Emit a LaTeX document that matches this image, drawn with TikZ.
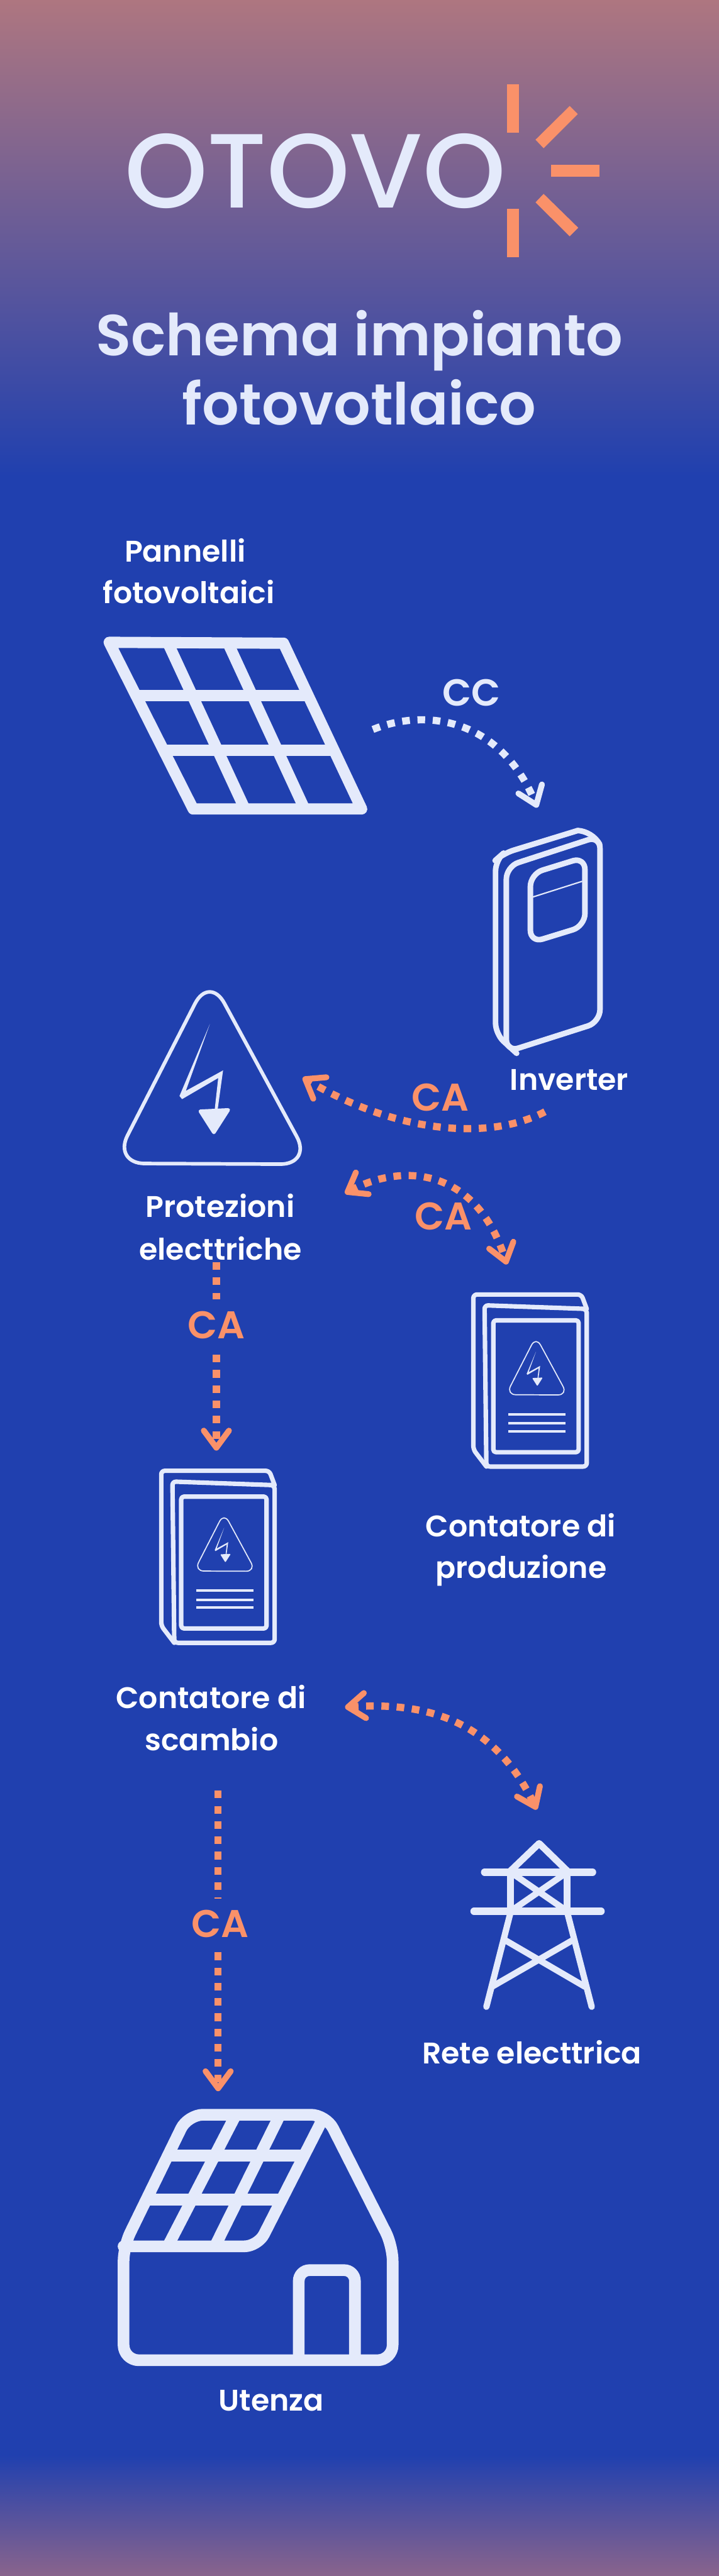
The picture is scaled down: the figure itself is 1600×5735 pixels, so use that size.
\documentclass[tikz,border=0pt]{standalone}
\usepackage{fontspec}
\usetikzlibrary{arrows.meta,bending}
\setmainfont{Poppins}
\newfontfamily\popsemi{Poppins SemiBold}
\newfontfamily\popmed{Poppins Medium}
\definecolor{bgblue}{RGB}{32,64,175}
\definecolor{bgtop}{RGB}{174,118,128}
\definecolor{bgbot}{RGB}{138,100,140}
\definecolor{icon}{RGB}{228,234,251}
\definecolor{sun}{RGB}{250,145,105}
\tikzset{
  lbl/.style={text=white,font=\popsemi\fontsize{33.2}{36}\selectfont,anchor=base,inner sep=0pt},
  titl/.style={text=icon,font=\popsemi\fontsize{64.5}{70}\selectfont,anchor=base,inner sep=0pt},
  calbl/.style={text=sun,font=\popsemi\fontsize{43}{43}\selectfont,anchor=base,inner sep=0pt},
  cclbl/.style={text=icon,font=\popsemi\fontsize{42}{43}\selectfont,anchor=base,inner sep=0pt},
  iconl/.style={draw=icon,line join=round,line cap=round},
  dotted conn/.style={line width=8pt,dash pattern=on 8.5pt off 8.5pt},
  barb/.tip={Straight Barb[length=19pt,width=28pt,line width=6.5pt,round]},
}
\newcommand{\warnicon}[4]{%
  \begin{scope}[shift={(#1,#2)},scale=#3]
    \draw[iconl,line width=#4pt,rounded corners=#3*35pt] (-7,-418) -- (221,2) -- (-221,0) -- cycle;
    \fill[icon] (-6,-310) -- (-73.5,-150) -- (-67.7,-143) -- (12.7,-190) -- (4.5,-116.4) -- (11,-116.4) -- (23.5,-207) -- (-59.4,-161.4) -- cycle;
    \fill[icon,draw=icon,line join=round,line width=#3*4pt] (-27,-116) -- (35,-119) -- (3,-69) -- cycle;
  \end{scope}}
\newcommand{\metericon}[2]{%
  \begin{scope}[shift={(#1,#2)}]
    \draw[iconl,line width=5pt,rounded corners=4pt] (1306,2914) -- (1294,2882) -- (1053.6,2882) -- (1053.6,3227) -- (1082.6,3265);
    \draw[iconl,line width=5pt,rounded corners=4pt] (1078.5,2906) -- (1306,2914) -- (1306,3265) -- (1082.6,3265) -- cycle;
    \draw[iconl,line width=5pt,rounded corners=3pt] (1098,2939.5) rectangle (1288,3233);
    \foreach \yy in {3149,3169,3187}{\draw[icon,line width=2.8pt] (1131.5,\yy) -- (1259,\yy);}
  \end{scope}}
\begin{document}
\begin{tikzpicture}[x=0.5pt,y=-0.5pt]
\useasboundingbox (0,0) rectangle (1600,5735);
% background
\fill[bgblue] (0,0) rectangle (1600,5735);
\shade[top color=bgtop,bottom color=bgblue] (0,0) rectangle (1600,1060);
\shade[top color=bgblue,bottom color=bgbot] (0,5466) rectangle (1600,5735);
% logo
\node[text=icon,inner sep=0pt,anchor=base west,font=\popmed\fontsize{117.5}{118}\selectfont] (logo) at (277,463) {OTOVO};
\fill[sun] (1128,188) rectangle (1155,296);
\fill[sun] (1128,465) rectangle (1155,573);
\fill[sun] (1226,367) rectangle (1334,394);
\fill[sun] (1192,311) -- (1268,236) -- (1286,254) -- (1210,330) -- cycle;
\fill[sun] (1192,450.5) -- (1210,431.6) -- (1287,507) -- (1268,526) -- cycle;
% title
\node[titl] (t1) at (800,791.6) {Schema impianto};
\node[titl] (t2) at (800,946) {fotovotlaico};
% panel
\draw[iconl,line width=12.5pt] (243,1430) -- (631,1432) -- (805,1801) -- (430,1801) -- cycle;
\draw[icon,line width=12.5pt] (299,1548) -- (687,1548);
\draw[icon,line width=12.5pt] (357,1670) -- (744,1670);
\draw[icon,line width=12.5pt] (374,1432) -- (545,1801);
\draw[icon,line width=12.5pt] (507.6,1432) -- (678,1801);
\node[lbl] (lpan1) at (412,1251) {Pannelli};
\node[lbl] (lpan2) at (420,1343) {fotovoltaici};
% inverter
\draw[iconl,line width=6.2pt,rounded corners=12pt] (1286,1849) -- (1120,1900) -- (1103,1915) -- (1103,2302) -- (1150,2345);
\draw[iconl,line width=6.2pt] (1286,1849) .. controls (1305,1850) and (1325,1862) .. (1335,1880);
\draw[iconl,line width=6.2pt,rounded corners=14pt] (1127,1929) -- (1335.5,1861) -- (1335.5,2275.5) -- (1127,2342) -- cycle;
\draw[iconl,line width=6.2pt,rounded corners=14pt] (1180.5,1945.6) -- (1302,1908) -- (1302,2061.6) -- (1180.5,2099) -- cycle;
\draw[icon,line width=1.5pt] (1186,1997) -- (1296,1962);
\node[lbl] (linv) at (1267,2427.5) {Inverter};
% protections
\warnicon{473}{2590}{1}{4}
\node[lbl] (lpro1) at (490,2710) {Protezioni};
\node[lbl] (lpro2) at (491,2805.5) {electtriche};
% meters
\metericon{0}{0}
\warnicon{1195}{3105}{.31}{1.2}
\node[lbl] (lpro3) at (1159,3421) {Contatore di};
\node[lbl] (lpro4) at (1160,3513.7) {produzione};
\metericon{-694.7}{392.4}
\warnicon{500.7}{3497.5}{.31}{1.2}
\node[lbl] (lsc1) at (470,3804) {Contatore di};
\node[lbl] (lsc2) at (471,3896.7) {scambio};
% tower
\draw[iconl,line width=7.5pt] (1136.5,4165) -- (1200,4104) -- (1262.5,4165);
\draw[iconl,line width=8pt] (1078.5,4168) -- (1319,4168);
\draw[iconl,line width=8pt] (1055,4255) -- (1338,4255);
\draw[iconl,line width=7.5pt] (1136.5,4168) -- (1136.5,4255) (1262.5,4168) -- (1262.5,4255);
\draw[iconl,line width=7pt] (1136.5,4168) -- (1262.5,4255) (1262.5,4168) -- (1136.5,4255);
\draw[iconl,line width=7pt] (1136.5,4257) -- (1082.6,4467.7) (1262.5,4257) -- (1317,4467.7);
\draw[iconl,line width=7pt] (1121.6,4317.8) -- (1302,4423) (1277.4,4317.8) -- (1095,4423);
\node[lbl] (lrete) at (1184,4595) {Rete electtrica};
% house
\draw[iconl,line width=13pt,rounded corners=17pt] (275,5001) -- (275,5254.6) -- (874,5254.6) -- (874,5000) -- (726,4708) -- (418,4708) -- cycle;
\draw[iconl,line width=13pt,rounded corners=15pt] (275,5001) -- (574,5001) -- (716,4722);
\draw[icon,line width=13pt] (373.4,4799) -- (677,4799);
\draw[icon,line width=13pt] (325.4,4897) -- (627,4897);
\draw[icon,line width=13pt] (525,4708) -- (373.4,5001);
\draw[icon,line width=13pt] (623.3,4708) -- (478.4,5001);
\draw[icon,line width=13pt,rounded corners=12pt] (665,5254.6) -- (665,5054) -- (790,5054) -- (790,5254.6);
\node[lbl] (lut) at (604,5368) {Utenza};
% connectors
\coordinate (ccA) at (830,1624);
\coordinate (ccB) at (1196,1798);
\draw[icon,dotted conn,-barb] (ccA) .. controls (950,1575) and (1120,1600) .. (ccB);
\node[cclbl] (lcc) at (1050,1571) {CC};
\coordinate (c1A) at (1213,2475);
\coordinate (c1B) at (674,2399);
\draw[sun,dotted conn,-barb] (c1A) .. controls (1090,2540) and (880,2525) .. (c1B);
\node[calbl] (lca1) at (980,2473.5) {CA};
\coordinate (c2A) at (768,2657);
\coordinate (c2B) at (1128,2815);
\draw[sun,dotted conn,barb-barb] (c2A) .. controls (890,2585) and (1065,2595) .. (c2B);
\node[calbl] (lca2) at (987,2738.6) {CA};
\coordinate (c3A) at (481.6,2810);
\coordinate (c3B) at (481.6,2892);
\coordinate (c3C) at (481.6,3016);
\coordinate (c3D) at (481.6,3229.5);
\draw[sun,dotted conn] (c3A) -- (c3B);
\draw[sun,dotted conn,-barb] (c3C) -- (c3D);
\node[calbl] (lca3) at (481.6,2980.7) {CA};
\coordinate (c4A) at (768,3801);
\coordinate (c4B) at (1194.5,4028.7);
\draw[sun,dotted conn,barb-barb] (c4A) .. controls (950,3785) and (1105,3830) .. (c4B);
\coordinate (c5A) at (485.5,3986.6);
\coordinate (c5B) at (485.5,4226.5);
\coordinate (c5C) at (485.5,4346.5);
\coordinate (c5D) at (485.5,4655.7);
\draw[sun,dotted conn] (c5A) -- (c5B);
\draw[sun,dotted conn,-barb] (c5C) -- (c5D);
\node[calbl] (lca4) at (490,4312.6) {CA};
\end{tikzpicture}
\end{document}
